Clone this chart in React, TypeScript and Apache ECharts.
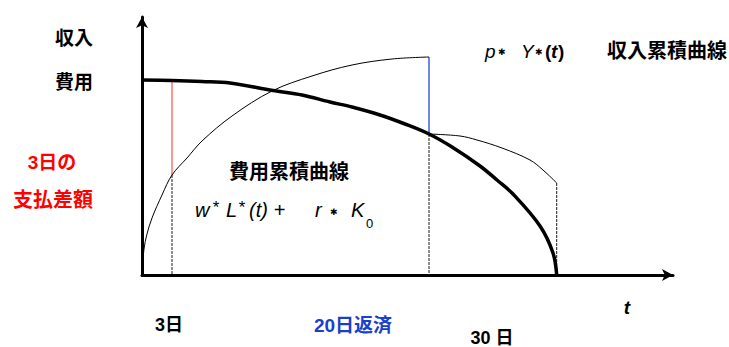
import React, { useEffect, useRef } from "react";
import * as echarts from "echarts";

// Schematic units: horizontal position (days axis drawn schematically), vertical amount
const revenueT = [0, 0.2, 0.5, 1, 2, 3, 4.5, 6, 9, 13, 17, 21, 25, 28.7];
const revenueV = [0, 2.6, 4.1, 5.7, 8.0, 10.0, 11.7, 13.4, 15.9, 18.4, 19.9, 21.0, 21.6, 21.8];

const costT = [0, 3, 6, 8.8, 13.1, 16, 18.8, 21, 23.8, 26.3, 28.7, 31, 33.8, 35.5, 37.1, 39.8, 41.1, 41.47];
const costV = [19.5, 19.45, 19.35, 19.2, 18.45, 18.0, 17.3, 16.8, 16.0, 15.1, 14.1, 12.8, 10.9, 9.5, 8.1, 4.9, 2.2, 0];

const afterT = [28.7, 31.8, 33.5, 36, 38.8, 40.1, 41.47];
const afterV = [14.1, 13.9, 13.5, 12.7, 11.5, 10.5, 9.2];

// event positions: 3日, 20日返済, 30日
const eventT = [3, 28.7, 41.47];
const day3Top = 19.45;
const day3Mid = 10.0;
const day20Top = 21.8;
const day20Mid = 14.1;
const day30Top = 9.2;

const dayLabels = ["3日", "20日返済", "30 日"];
const yLabels = ["収入", "費用"];
const redLabels = ["3日の", "支払差額"];

const zip = (a: number[], b: number[]) => a.map((v, i) => [v, b[i]]);

export default function App() {
  const ref = useRef<HTMLDivElement>(null);
  useEffect(() => {
    if (!ref.current) return;
    const chart = echarts.init(ref.current, null, { renderer: "svg" });
    const latin = "'Liberation Sans', Arial, sans-serif";
    const cjk = "'Liberation Sans', 'Noto Sans CJK JP', sans-serif";
    const star = "bold 9px 'DejaVu Sans', sans-serif";
    const axisCommon = {
      type: "value" as const,
      axisLine: {
        show: true,
        symbol: ["none", "arrow"],
        symbolSize: [9, 11],
        lineStyle: { color: "#000", width: 3 },
      },
      axisTick: { show: false },
      axisLabel: { show: false },
      splitLine: { show: false },
    };
    const dotted = { color: "#1a1a1a", width: 1, type: [3, 1] as any };
    const seg = (pts: number[][], lineStyle: any) => ({
      type: "line",
      data: pts,
      showSymbol: false,
      symbol: "none",
      lineStyle,
      z: 1,
    });
    const curve = (t: number[], v: number[], width: number, z: number) => ({
      type: "line",
      data: zip(t, v),
      smooth: 0.35,
      showSymbol: false,
      symbol: "none",
      lineStyle: { color: "#000", width },
      z,
    });
    const txt = (text: string, x: number, y: number, font: string, fill = "#000", align = "left") => ({
      type: "text",
      x,
      y,
      style: { text, font, fill, textAlign: align, textVerticalAlign: "middle" },
    });
    chart.setOption({
      animation: false,
      grid: { left: 142, top: 17, width: 531, height: 258 },
      xAxis: { ...axisCommon, min: 0, max: 53.1 },
      yAxis: { ...axisCommon, min: 0, max: 25.8 },
      series: [
        seg([[eventT[0], day3Top], [eventT[0], day3Mid]], { color: "#ff2a2a", width: 1 }),
        seg([[eventT[0], day3Mid], [eventT[0], 0]], dotted),
        seg([[eventT[1], day20Top], [eventT[1], day20Mid]], { color: "#3a5fe0", width: 1.5 }),
        seg([[eventT[1], day20Mid], [eventT[1], 0]], dotted),
        seg([[eventT[2], day30Top], [eventT[2], 0]], dotted),
        curve(revenueT, revenueV, 1, 2),
        curve(afterT, afterV, 1, 2),
        curve(costT, costV, 3.5, 3),
      ],
      graphic: [
        txt(yLabels[0], 74, 38, `bold 19px ${cjk}`, "#000", "center"),
        txt(yLabels[1], 74, 82, `bold 19px ${cjk}`, "#000", "center"),
        txt(redLabels[0], 52, 162, `bold 19px ${cjk}`, "#ff0000", "center"),
        txt(redLabels[1], 53, 200, `bold 20px ${cjk}`, "#ff0000", "center"),
        txt("p", 485, 51, `italic 19px ${latin}`),
        txt("✱", 498, 52, star),
        txt("Y", 521, 51, `italic 19px ${latin}`),
        txt("✱", 535, 52, star),
        txt("(", 545, 51, `bold 19px ${latin}`),
        txt("t", 551, 51, `bold italic 19px ${latin}`),
        txt(")", 558, 51, `bold 19px ${latin}`),
        txt("収入累積曲線", 727, 51, `bold 20px ${cjk}`, "#000", "right"),
        txt("費用累積曲線", 289, 172, `bold 20px ${cjk}`, "#000", "center"),
        txt("w", 195, 210, `italic 20px ${latin}`),
        txt("*", 212, 207, `italic 17px ${latin}`),
        txt("L", 226, 210, `italic 20px ${latin}`),
        txt("*", 238, 207, `italic 17px ${latin}`),
        txt("(t) +", 249, 210, `italic 20px ${latin}`),
        txt("r", 315, 210, `italic 20px ${latin}`),
        txt("✱", 330, 212, star),
        txt("K", 351, 210, `italic 20px ${latin}`),
        txt("0", 366, 223, `13px ${latin}`),
        txt("t", 627, 307, `bold italic 19px ${latin}`, "#000", "center"),
        txt(dayLabels[0], 169, 325, `bold 18px ${cjk}`, "#000", "center"),
        txt(dayLabels[1], 353, 325, `bold 19px ${cjk}`, "#1a3fc8", "center"),
        txt(dayLabels[2], 492, 338, `bold 18px ${cjk}`, "#000", "center"),
      ],
    });
    return () => chart.dispose();
  }, []);
  return (
    <div
      ref={ref}
      style={{ position: "fixed", left: 0, top: 0, width: 729, height: 347, background: "#fff" }}
    />
  );
}
